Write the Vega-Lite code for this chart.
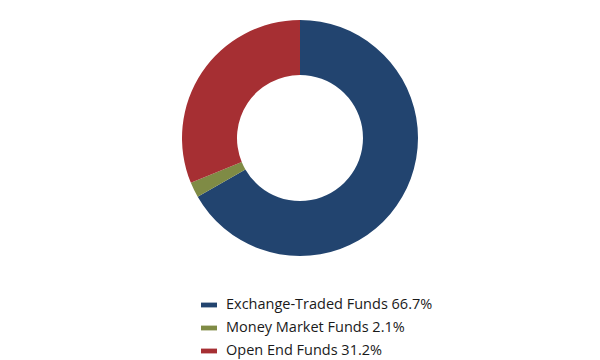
{
  "$schema": "https://vega.github.io/schema/vega-lite/v6.json",
  "width": 600,
  "height": 360,
  "autosize": {"type": "none"},
  "padding": 0,
  "background": "white",
  "view": {"stroke": null},
  "data": {
    "values": [
      {"category": "Exchange-Traded Funds 66.7%", "value": 66.7, "order": 1},
      {"category": "Money Market Funds 2.1%", "value": 2.1, "order": 2},
      {"category": "Open End Funds 31.2%", "value": 31.2, "order": 3}
    ]
  },
  "mark": {"type": "arc", "outerRadius": 118, "innerRadius": 63, "stroke": null},
  "encoding": {
    "x": {"value": 300},
    "y": {"value": 138},
    "theta": {"field": "value", "type": "quantitative", "stack": true},
    "order": {"field": "order", "type": "quantitative"},
    "color": {
      "field": "category",
      "type": "nominal",
      "sort": null,
      "scale": {
        "domain": ["Exchange-Traded Funds 66.7%", "Money Market Funds 2.1%", "Open End Funds 31.2%"],
        "range": ["#22446F", "#7F8B45", "#A62F33"]
      },
      "legend": {
        "title": null,
        "orient": "none",
        "legendX": 201,
        "legendY": 297,
        "direction": "vertical",
        "symbolType": "M-1,-0.3H1V0.3H-1Z",
        "symbolSize": 256,
        "symbolStrokeWidth": 0,
        "symbolOffset": 0,
        "labelFont": "Open Sans",
        "labelFontSize": 14.5,
        "labelColor": "#1a1a1a",
        "labelOffset": 9,
        "rowPadding": 8,
        "labelLimit": 400
      }
    }
  }
}
